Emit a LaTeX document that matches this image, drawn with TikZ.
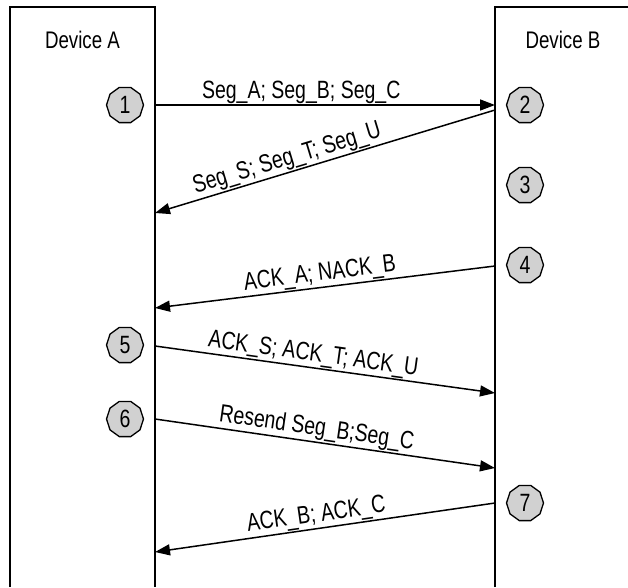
\documentclass[tikz,border=0pt]{standalone}
\usepackage{fontspec}
\setmainfont{Liberation Sans}[FakeStretch=0.78]
\usetikzlibrary{arrows.meta,shapes.geometric}
\begin{document}
\begin{tikzpicture}[x=1pt,y=-1pt,
  dev/.style={font=\fontsize{24}{26}\selectfont},
  num/.style={regular polygon,regular polygon sides=10,draw,fill=black!18,line width=1.3pt,minimum size=37pt,inner sep=0pt,font=\fontsize{25}{26}\selectfont},
  msg/.style={line width=1.5pt,-{Triangle[length=15pt,width=11pt]}},
  lbl/.style={font=\fontsize{25}{26}\selectfont,sloped,above,inner sep=1pt},
  box/.style={line width=1.5pt}]
\useasboundingbox (0,0) rectangle (628,587);
% boxes
\coordinate (la) at (10,587);
\coordinate (lb) at (10,7);
\coordinate (lc) at (155,7);
\coordinate (ld) at (155,587);
\coordinate (ra) at (495,587);
\coordinate (rb) at (495,7);
\coordinate (rc) at (628,7);
\draw[box] (la) -- (lb) -- (lc) -- (ld);
\draw[box] (ra) -- (rb) -- (rc);
\node[dev] (devA) at (82.5,40) {Device A};
\node[dev] (devB) at (563,40) {Device B};
% numbers
\node[num] (n1) at (125,105) {1};
\node[num] (n2) at (525,105) {2};
\node[num] (n3) at (525,185) {3};
\node[num] (n4) at (525,265) {4};
\node[num] (n5) at (125,345) {5};
\node[num] (n6) at (125,419) {6};
\node[num] (n7) at (525,503) {7};
% message end points
\coordinate (a1) at (155,105);
\coordinate (b1) at (495,105);
\coordinate (b2) at (495,110);
\coordinate (a2) at (155,213);
\coordinate (b4) at (495,266);
\coordinate (a4) at (155,308);
\coordinate (a5) at (155,346);
\coordinate (b5) at (495,393);
\coordinate (a6) at (155,419);
\coordinate (b6) at (495,468);
\coordinate (b7) at (495,503);
\coordinate (a7) at (155,552);
\draw[msg] (a1) -- node[lbl,pos=0.43] {Seg\_A; Seg\_B; Seg\_C} (b1);
\draw[msg] (b2) -- node[lbl,pos=0.6] {Seg\_S; Seg\_T; Seg\_U} (a2);
\draw[msg] (b4) -- node[lbl,pos=0.51] {ACK\_A; NACK\_B} (a4);
\draw[msg] (a5) -- node[lbl,pos=0.46] {ACK\_S; ACK\_T; ACK\_U} (b5);
\draw[msg] (a6) -- node[lbl,pos=0.47] {Resend Seg\_B;Seg\_C} (b6);
\draw[msg] (b7) -- node[lbl,pos=0.52] {ACK\_B; ACK\_C} (a7);
\end{tikzpicture}
\end{document}
